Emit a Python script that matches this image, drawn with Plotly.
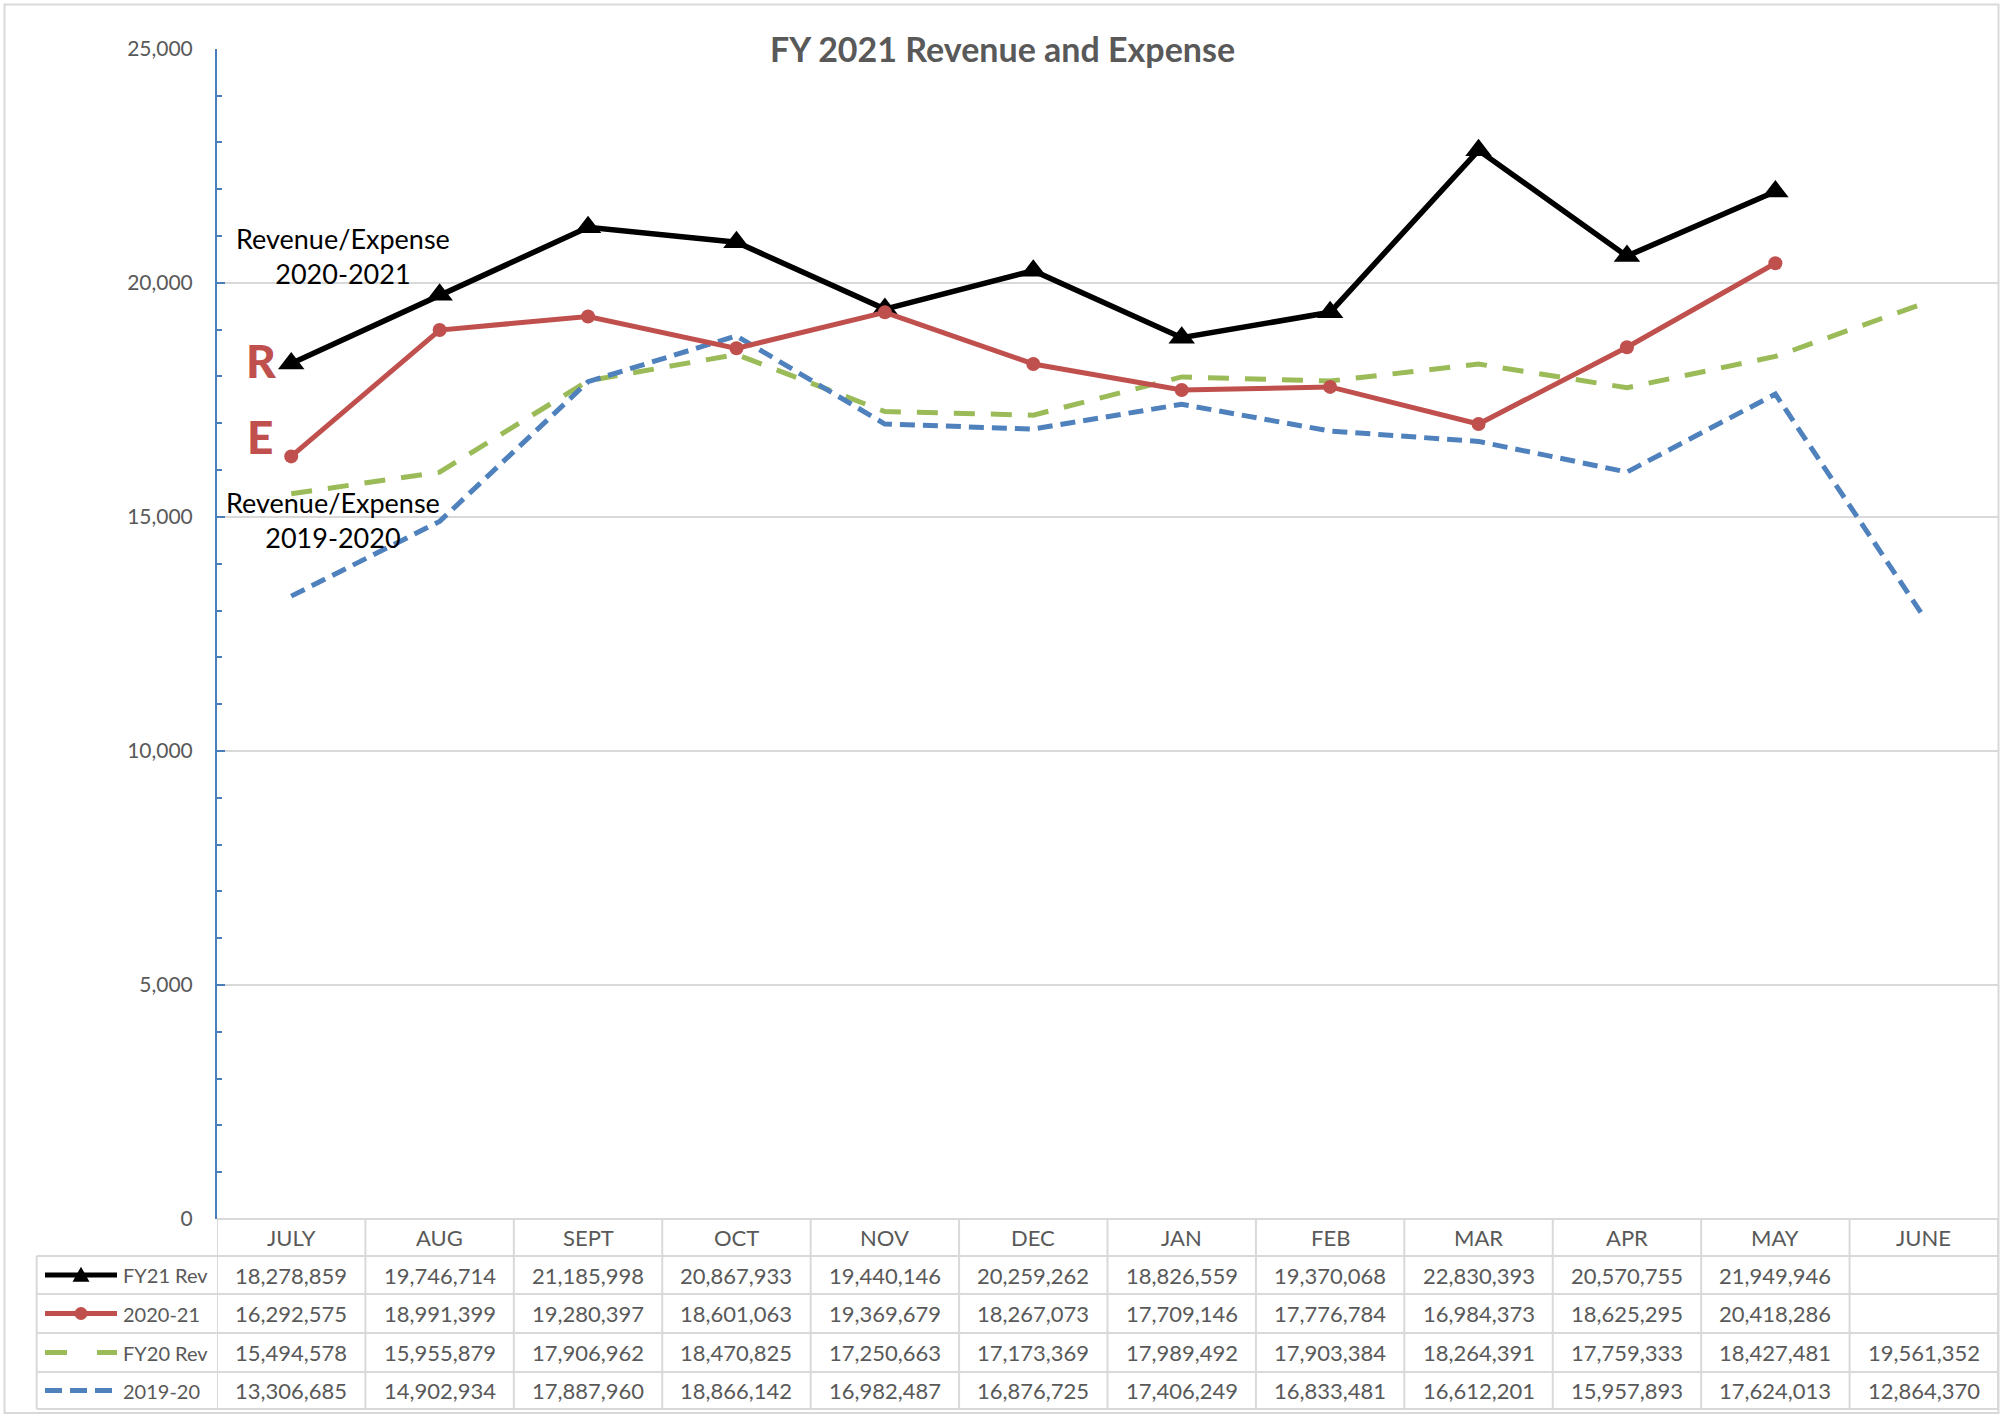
import plotly.graph_objects as go

# ---- data -------------------------------------------------------------
months = ["JULY", "AUG", "SEPT", "OCT", "NOV", "DEC", "JAN", "FEB", "MAR", "APR", "MAY", "JUNE"]

fy21_rev = [18278859, 19746714, 21185998, 20867933, 19440146, 20259262,
            18826559, 19370068, 22830393, 20570755, 21949946, None]
exp_2020_21 = [16292575, 18991399, 19280397, 18601063, 19369679, 18267073,
               17709146, 17776784, 16984373, 18625295, 20418286, None]
fy20_rev = [15494578, 15955879, 17906962, 18470825, 17250663, 17173369,
            17989492, 17903384, 18264391, 17759333, 18427481, 19561352]
exp_2019_20 = [13306685, 14902934, 17887960, 18866142, 16982487, 16876725,
               17406249, 16833481, 16612201, 15957893, 17624013, 12864370]

series_names = ["FY21 Rev", "2020-21", "FY20 Rev", "2019-20"]
series_values = [fy21_rev, exp_2020_21, fy20_rev, exp_2019_20]

y_ticks = [0, 5000, 10000, 15000, 20000, 25000]

# ---- styling ----------------------------------------------------------
W, H = 2009, 1417
FONT = "Lato"
GREY_TEXT = "#595959"
GRID = "#d9d9d9"
AXIS_BLUE = "#4a7ebb"
BLACK = "#000000"
RED = "#c0504d"
GREEN = "#9bbb59"
BLUE = "#4f81bd"


def px(x):
    """pixel column -> paper x"""
    return x / W


def py(y):
    """pixel row (from top) -> paper y"""
    return 1 - y / H


PLOT_L, PLOT_R = 217, 1998
PLOT_T, PLOT_B = 48.8, 1219
TABLE_LEFT = 36.7
ROW_LINES = [1219, 1256, 1294, 1333, 1372, 1409]

styles = [
    dict(color=BLACK, width=5.5, dash="solid", symbol="triangle-up", msize=23),
    dict(color=RED, width=5, dash="solid", symbol="circle", msize=14),
    dict(color=GREEN, width=5, dash="21px,16px", symbol=None, msize=0),
    dict(color=BLUE, width=5, dash="15px,8px", symbol=None, msize=0),
]


def thousands(vals):
    return [None if v is None else v / 1000 for v in vals]


fig = go.Figure()

# dashed prior-year series underneath, current year on top
for idx in [2, 3, 0, 1]:
    st = styles[idx]
    mode = "lines+markers" if st["symbol"] else "lines"
    fig.add_trace(go.Scatter(
        x=months,
        y=thousands(series_values[idx]),
        name=series_names[idx],
        mode=mode,
        line=dict(color=st["color"], width=st["width"], dash=st["dash"]),
        marker=dict(symbol=st["symbol"] or "circle", size=st["msize"],
                    color=st["color"], line=dict(width=0)),
        showlegend=False,
        hoverinfo="skip",
    ))

shapes = []
annotations = []

# outer chart border
shapes.append(dict(type="rect", xref="paper", yref="paper",
                   x0=px(4.5), x1=px(1998.5), y0=py(1413), y1=py(4.5),
                   line=dict(color=GRID, width=2), layer="below"))

# ---- data table under the plot ---------------------------------------
# header top line (category columns only)
shapes.append(dict(type="line", xref="paper", yref="paper",
                   x0=px(PLOT_L), x1=px(PLOT_R), y0=py(ROW_LINES[0]), y1=py(ROW_LINES[0]),
                   line=dict(color=GRID, width=2)))
# row separators spanning the key column too
for yl in ROW_LINES[1:]:
    shapes.append(dict(type="line", xref="paper", yref="paper",
                       x0=px(TABLE_LEFT), x1=px(PLOT_R), y0=py(yl), y1=py(yl),
                       line=dict(color=GRID, width=2)))
# column separators aligned with the category axis
for k in range(len(months) + 1):
    shapes.append(dict(type="line", xref="x", yref="paper",
                       x0=k - 0.5, x1=k - 0.5, y0=py(ROW_LINES[0]), y1=py(ROW_LINES[-1]),
                       line=dict(color=GRID, width=2)))
shapes.append(dict(type="line", xref="paper", yref="paper",
                   x0=px(TABLE_LEFT), x1=px(TABLE_LEFT), y0=py(ROW_LINES[1]), y1=py(ROW_LINES[-1]),
                   line=dict(color=GRID, width=2)))

TABLE_FONT = dict(family=FONT, size=22, color=GREY_TEXT)
KEY_FONT = dict(family=FONT, size=20, color=GREY_TEXT)

# header row: month names
header_y = (ROW_LINES[0] + ROW_LINES[1]) / 2
for m in months:
    annotations.append(dict(x=m, xref="x", y=py(header_y), yref="paper",
                            text=m, showarrow=False, font=TABLE_FONT,
                            xanchor="center", yanchor="middle"))

# value rows with legend keys
KEY_X0, KEY_X1, KEY_MID, LABEL_X = 45, 117, 81, 121
for r, (name, vals) in enumerate(zip(series_names, series_values)):
    yc = (ROW_LINES[r + 1] + ROW_LINES[r + 2]) / 2
    st = styles[r]
    for m, v in zip(months, vals):
        if v is None:
            continue
        annotations.append(dict(x=m, xref="x", y=py(yc), yref="paper",
                                text=f"{v:,}", showarrow=False, font=TABLE_FONT,
                                xanchor="center", yanchor="middle"))
    annotations.append(dict(x=px(LABEL_X), xref="paper", y=py(yc), yref="paper",
                            text=name, showarrow=False, font=KEY_FONT,
                            xanchor="left", yanchor="middle"))
    key_dash = {"solid": "solid", "21px,16px": "22px,30px", "15px,8px": "17px,8px"}[st["dash"]]
    shapes.append(dict(type="line", xref="paper", yref="paper",
                       x0=px(KEY_X0), x1=px(KEY_X1), y0=py(yc), y1=py(yc),
                       line=dict(color=st["color"], width=5, dash=key_dash)))
    if st["symbol"] == "triangle-up":
        hw, ht = 8.5, 15
        path = (f"M {px(KEY_MID - hw)},{py(yc + ht * 0.45)} "
                f"L {px(KEY_MID + hw)},{py(yc + ht * 0.45)} "
                f"L {px(KEY_MID)},{py(yc - ht * 0.55)} Z")
        shapes.append(dict(type="path", xref="paper", yref="paper", path=path,
                           fillcolor=st["color"], line=dict(width=0)))
    elif st["symbol"] == "circle":
        rr = 6.5
        shapes.append(dict(type="circle", xref="paper", yref="paper",
                           x0=px(KEY_MID - rr), x1=px(KEY_MID + rr),
                           y0=py(yc + rr), y1=py(yc - rr),
                           fillcolor=st["color"], line=dict(width=0)))

# ---- callouts on the plot ---------------------------------------------
CALLOUT_FONT = dict(family=FONT, size=27, color="#000000")
annotations.append(dict(x=px(343), xref="paper", y=py(256), yref="paper",
                        text="Revenue/Expense<br>2020-2021", showarrow=False,
                        font=CALLOUT_FONT, align="center",
                        xanchor="center", yanchor="middle"))
annotations.append(dict(x=px(333), xref="paper", y=py(520), yref="paper",
                        text="Revenue/Expense<br>2019-2020", showarrow=False,
                        font=CALLOUT_FONT, align="center",
                        xanchor="center", yanchor="middle"))
RE_FONT = dict(family=FONT, size=46, color=RED, weight=900)
annotations.append(dict(x=px(261), xref="paper", y=py(360), yref="paper",
                        text="R", showarrow=False, font=RE_FONT,
                        xanchor="center", yanchor="middle"))
annotations.append(dict(x=px(260), xref="paper", y=py(437), yref="paper",
                        text="E", showarrow=False, font=RE_FONT,
                        xanchor="center", yanchor="middle"))

# chart title sits on the top gridline
annotations.append(dict(x=px(1002), xref="paper", y=py(48.5), yref="paper",
                        text="<b>FY 2021 Revenue and Expense</b>", showarrow=False,
                        font=dict(family=FONT, size=34, color=GREY_TEXT),
                        xanchor="center", yanchor="middle"))

fig.update_layout(
    width=W, height=H, autosize=False,
    margin=dict(l=0, r=0, t=0, b=0, pad=0, autoexpand=False),
    paper_bgcolor="#ffffff", plot_bgcolor="#ffffff",
    xaxis=dict(type="category", categoryorder="array", categoryarray=months,
               domain=[px(PLOT_L), px(PLOT_R)], range=[-0.5, len(months) - 0.5],
               showticklabels=False, showgrid=False, zeroline=False,
               showline=False, ticks="", automargin=False),
    yaxis=dict(domain=[py(PLOT_B), py(PLOT_T)], range=[0, 25000],
               tickvals=y_ticks, tickformat=",d", automargin=False,
               tickfont=dict(family=FONT, size=21, color=GREY_TEXT),
               showgrid=True, gridcolor=GRID, gridwidth=2,
               zeroline=False, showline=True, linecolor=AXIS_BLUE, linewidth=2,
               ticks="inside", ticklen=8, tickwidth=2, tickcolor=AXIS_BLUE,
               ticklabelstandoff=18,
               minor=dict(dtick=1000, ticks="inside", ticklen=5, tickwidth=2,
                          tickcolor=AXIS_BLUE, showgrid=False)),
    shapes=shapes,
    annotations=annotations,
    showlegend=False,
)

fig.write_html("out.html")
